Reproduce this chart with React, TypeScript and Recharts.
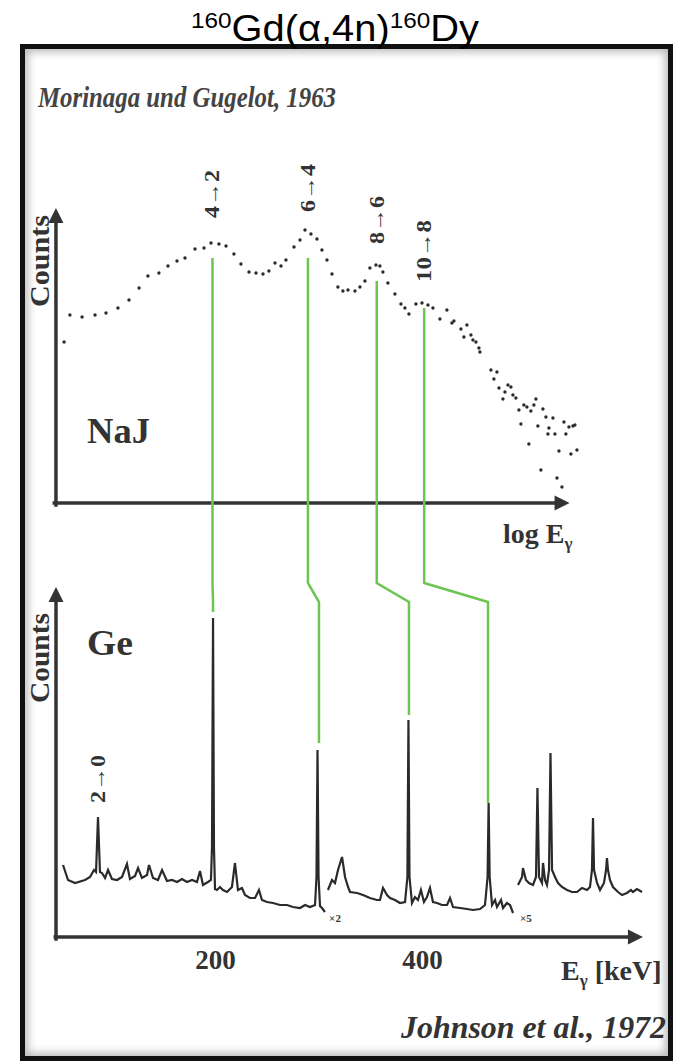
import React from "react";
import { ComposedChart, XAxis, YAxis, Scatter, Line, ReferenceLine, ReferenceDot } from "recharts";

// axis windows of the figure
const LOG_DOMAIN = [100, 1200]; // keV, log scale (NaJ panel)
const KEV_DOMAIN = [40, 620]; // keV, linear (Ge panel)
const TOP_DOMAIN = [-279, 251.5]; // counts, NaJ panel
const BOT_DOMAIN = [-62, 468.5]; // counts, Ge panel

// NaJ spectrum, Morinaga und Gugelot 1963: [E keV, counts]
const najPoints = [
  [106, 80.5], [108.6, 94], [114.2, 93], [120.5, 94], [126.1, 95], [132.5, 97.5], [138.7, 101.5],
  [144.6, 107.5], [150, 113.5], [157, 115], [163, 118.5], [169.2, 121], [174.9, 122.5], [182.3, 127],
  [189.2, 127.5], [194.8, 130], [201.3, 129.5], [207.3, 128.5], [214.2, 124.5], [220.5, 119.5],
  [228, 115.5], [234.7, 115], [241.6, 114.5], [247.6, 116], [253.9, 120], [260.3, 118.5], [265.7, 121.5],
  [274.7, 128], [281.6, 131.5], [287.5, 136.5], [294.7, 134.5], [302.1, 132], [308.4, 126.5],
  [314.9, 121.5], [321.5, 114.5], [329.5, 108], [336.4, 106], [343.5, 106.5], [353.6, 106], [361, 108],
  [368.5, 111], [376.2, 117.5], [385.7, 119], [392.1, 118.5], [397, 115.5], [405.3, 110], [417.3, 104.5],
  [427.8, 99.5], [434.9, 97.5], [442.2, 94.5], [455.2, 99.5], [466.7, 100], [478.4, 99], [488.4, 97.5],
  [502.7, 92], [517.5, 96.5], [528.3, 90], [532.7, 91], [548.4, 87], [555.2, 83], [562.2, 89],
  [571.6, 84], [576.4, 81.5], [583.6, 80.5], [590.9, 77.5], [593.3, 75.5], [621, 66.5], [628.7, 62],
  [636.6, 65.5], [642, 57.5], [652.6, 52], [658.1, 55.5], [666.3, 59], [674.6, 58], [680.2, 54],
  [688.6, 52.5], [697.3, 46.5], [703.1, 39.5], [711.8, 49], [720.8, 48], [726.7, 29.5], [732.8, 46],
  [741.9, 49], [748.1, 52], [754.3, 38.5], [763.8, 16.5], [770.2, 47], [779.8, 43], [786.3, 34.5],
  [789.6, 37.5], [802.8, 42.5], [809.5, 34.5], [816.3, 12.5], [823, 26], [833.3, 8], [840.2, 40.5],
  [847.1, 34.5], [857.8, 38], [864.9, 24.5], [872.1, 38.5], [879.3, 39], [886.7, 26.5],
];

// Ge spectrum, Johnson et al. 1972: [E keV, counts]
const geMain = [
  [52.6, 36], [57.4, 28.5], [64.2, 27], [73.8, 28.5], [78.7, 30], [82.5, 33.5], [84.5, 32.5], [86.4, 60],
  [88.3, 32.5], [90.3, 32], [93.2, 29.5], [96.1, 33.5], [99.9, 29], [104.8, 28.5], [109.6, 30],
  [114.4, 36.5], [117.3, 29], [122.2, 30.5], [125.1, 34.5], [128.9, 29.5], [133.8, 31], [135.7, 36],
  [139.6, 29.5], [144.4, 28.5], [148.3, 33.5], [153.1, 28], [157.9, 28.5], [162.8, 27.5], [167.6, 29],
  [172.4, 27.5], [177.3, 28.5], [182.1, 27.5], [185, 33], [187.9, 26], [192.7, 27.5], [195.6, 28.5],
  [196.6, 45], [197.6, 159.5], [198.5, 45], [199.5, 24], [201.4, 23.5], [204.3, 25], [207.2, 23.5],
  [211.1, 22.5], [215.9, 25], [218.8, 37], [221.7, 23.5], [225.6, 24.5], [228.5, 21], [233.3, 19.5],
  [238.2, 19.5], [242, 23.5], [244.9, 18.5], [249.8, 17.5], [255.6, 17], [262.3, 16], [269.1, 16],
  [274.9, 15], [281.7, 14.5], [286.5, 16], [291.3, 15], [296.2, 16], [297.6, 30], [298.6, 93.5],
  [299.6, 30], [301, 15.5], [302.9, 14.5], [305.8, 12.5],
];
const geTimes2 = [
  [308.7, 23.5], [312.6, 28.5], [315.5, 27], [318.4, 33.5], [322.3, 40], [325.2, 30], [328.1, 25],
  [330, 22.5], [336.8, 22], [342.6, 21], [349.3, 19.5], [356.1, 18.5], [359, 18.5], [361.9, 24.5],
  [365.8, 21], [368.7, 19.5], [373.5, 18.5], [378.3, 17], [383.2, 17.5], [385.5, 30], [386.5, 108.5],
  [387.5, 30], [389.9, 17], [392.8, 20], [395.7, 18.5], [398.6, 23.5], [401.5, 17.5], [404.4, 20],
  [407.3, 24.5], [410.2, 17.5], [414.1, 17], [418.9, 16], [423.8, 16], [426.7, 19.5], [429.6, 15],
  [436.3, 14.5], [443.1, 14], [448.9, 13.5], [455.7, 14], [460.5, 16], [463, 30], [464, 67], [465, 30],
  [467.3, 16], [470.2, 18.5], [472.1, 15], [476, 18.5], [477.9, 14.5], [481.7, 17], [484.7, 16], [487.6, 12],
];
const geTimes5 = [
  [492.4, 26], [496.3, 30], [497.2, 34.5], [500.1, 28.5], [503, 27], [506.9, 26], [509.8, 30],
  [511.2, 74.5], [512.7, 30], [515.6, 27], [516.6, 37], [518.5, 28.5], [520.4, 26], [522.4, 33.5],
  [523.8, 92], [525.3, 33.5], [528.2, 30], [531.1, 27], [534.9, 25], [539.8, 23.5], [544.6, 22.5],
  [549.4, 22.5], [554.3, 24.5], [559.1, 23.5], [562, 25], [563.9, 33.5], [564.9, 59.5], [565.9, 33.5],
  [568.8, 27], [571.7, 23.5], [575.5, 27], [577.5, 33.5], [578.4, 39.5], [579.4, 33.5], [581.3, 28.5],
  [584.2, 25], [589.1, 22.5], [592.9, 21], [597.7, 22], [601.6, 23.5], [603.5, 22.5], [607.4, 24],
  [612.3, 22.5],
];

// yrast transitions linking both spectra
const transitions = ["4→2", "6→4", "8→6", "10→8"];
const najEnergy = [196, 291, 387, 471];
const geEnergy = [197.6, 300, 387, 463.4];
const najLineStart = [122.5, 122.5, 111, 97.5];
const geLineEnd = [162.5, 97, 111, 67];
const labelCounts = [154.5, 157.5, 141.5, 126];
const BEND_UPPER = 177; // Ge-panel counts where the connectors bend
const BEND_LOWER = 167.5;

const kevTicks = [200, 400];

const INK = "#333";
const GREEN = "#6cc552";
const SERIF = '"Liberation Serif", "Times New Roman", serif';

const toXY = (arr: number[][]) => arr.map(([x, y]) => ({ x, y }));

// place a log-axis energy / NaJ count on the linear Ge axes
const logToKev = (e: number) =>
  KEV_DOMAIN[0] +
  ((Math.log(e) - Math.log(LOG_DOMAIN[0])) / (Math.log(LOG_DOMAIN[1]) - Math.log(LOG_DOMAIN[0]))) *
    (KEV_DOMAIN[1] - KEV_DOMAIN[0]);
const topToBot = (c: number) =>
  BOT_DOMAIN[0] + ((c - TOP_DOMAIN[0]) / (TOP_DOMAIN[1] - TOP_DOMAIN[0])) * (BOT_DOMAIN[1] - BOT_DOMAIN[0]);

const connectors = transitions.map((t, i) => [
  { x: logToKev(najEnergy[i]), y: topToBot(najLineStart[i]) },
  { x: logToKev(najEnergy[i]), y: BEND_UPPER },
  { x: geEnergy[i], y: BEND_LOWER },
  { x: geEnergy[i], y: geLineEnd[i] },
]);

const Arrow = (p: any) => {
  const { x1, y1, x2, y2 } = p;
  const len = Math.hypot(x2 - x1, y2 - y1);
  const ux = (x2 - x1) / len;
  const uy = (y2 - y1) / len;
  const L = 15;
  const W = 7.5;
  const bx = x2 - ux * L;
  const by = y2 - uy * L;
  return (
    <g>
      <line x1={x1} y1={y1} x2={bx} y2={by} stroke={INK} strokeWidth={3.5} strokeLinecap="square" />
      <polygon points={`${x2},${y2} ${bx - uy * W},${by + ux * W} ${bx + uy * W},${by - ux * W}`} fill={INK} />
    </g>
  );
};

const rotLabel = (text: string, size: number, len: number) => (p: any) => (
  <text
    x={p.cx}
    y={p.cy}
    transform={`rotate(-90 ${p.cx} ${p.cy})`}
    textAnchor="middle"
    dominantBaseline="central"
    fontFamily={SERIF}
    fontWeight="bold"
    fontSize={size}
    fill={INK}
    textLength={len}
    lengthAdjust="spacingAndGlyphs"
  >
    {text}
  </text>
);

const plainLabel = (text: string, size: number) => (p: any) => (
  <text x={p.cx} y={p.cy} textAnchor="middle" dominantBaseline="central" fontFamily={SERIF} fontWeight="bold" fontSize={size} fill={INK}>
    {text}
  </text>
);

export default function App() {
  return (
    <div style={{ position: "absolute", left: 0, top: 0, width: 685, height: 1061, background: "#fff", overflow: "hidden" }}>
      <div
        style={{
          position: "absolute",
          left: 20,
          top: 44,
          width: 653,
          height: 1017,
          boxSizing: "border-box",
          border: "5px solid #111",
          boxShadow: "inset 0 0 9px 3px rgba(0,0,0,0.28)",
          background: "#fff",
        }}
      />
      <div style={{ position: "absolute", left: 0, top: 0 }}>
        <ComposedChart width={685} height={1061} margin={{ top: 0, right: 35, bottom: 0, left: 50 }}>
          <XAxis xAxisId="log" dataKey="x" type="number" scale="log" domain={LOG_DOMAIN} allowDataOverflow hide />
          <XAxis xAxisId="kev" dataKey="x" type="number" domain={KEV_DOMAIN} allowDataOverflow hide />
          <YAxis yAxisId="top" dataKey="y" type="number" domain={TOP_DOMAIN} allowDataOverflow hide />
          <YAxis yAxisId="bot" dataKey="y" type="number" domain={BOT_DOMAIN} allowDataOverflow hide />

          {/* axes with arrows */}
          <ReferenceLine xAxisId="log" yAxisId="top" segment={[{ x: 102.5, y: -1 }, { x: 102.5, y: 147.5 }]} shape={Arrow} />
          <ReferenceLine xAxisId="log" yAxisId="top" segment={[{ x: 101.8, y: 0 }, { x: 860, y: 0 }]} shape={Arrow} />
          <ReferenceLine xAxisId="kev" yAxisId="bot" segment={[{ x: 45.8, y: -1 }, { x: 45.8, y: 175 }]} shape={Arrow} />
          <ReferenceLine xAxisId="kev" yAxisId="bot" segment={[{ x: 45.1, y: 0 }, { x: 613.2, y: 0 }]} shape={Arrow} />

          {/* green connectors */}
          {connectors.map((pts, i) => (
            <Line
              key={transitions[i]}
              xAxisId="kev"
              yAxisId="bot"
              data={pts}
              dataKey="y"
              type="linear"
              stroke={GREEN}
              strokeWidth={2.5}
              dot={false}
              activeDot={false}
              isAnimationActive={false}
            />
          ))}

          <Scatter
            xAxisId="log"
            yAxisId="top"
            data={toXY(najPoints)}
            isAnimationActive={false}
            shape={(p: any) => <circle cx={p.cx} cy={p.cy} r={1.7} fill="#2a2a2a" />}
          />

          {[geMain, geTimes2, geTimes5].map((seg, i) => (
            <Line
              key={`ge${i}`}
              xAxisId="kev"
              yAxisId="bot"
              data={toXY(seg)}
              dataKey="y"
              type="linear"
              stroke="#2a2a2a"
              strokeWidth={2.2}
              dot={false}
              activeDot={false}
              isAnimationActive={false}
            />
          ))}

          {transitions.map((t, i) => (
            <ReferenceDot
              key={`lab${t}`}
              xAxisId="log"
              yAxisId="top"
              x={najEnergy[i]}
              y={labelCounts[i]}
              r={0}
              shape={rotLabel(t, 20, t.length > 3 ? 62 : 48)}
            />
          ))}
          <ReferenceDot xAxisId="kev" yAxisId="bot" x={86.4} y={79} r={0} shape={rotLabel("2→0", 20, 48)} />
          {kevTicks.map((k) => (
            <ReferenceDot key={k} xAxisId="kev" yAxisId="bot" x={k} y={-11.5} r={0} shape={plainLabel(String(k), 27)} />
          ))}
          <ReferenceDot xAxisId="kev" yAxisId="bot" x={315.5} y={9.5} r={0} shape={plainLabel("×2", 11)} />
          <ReferenceDot xAxisId="kev" yAxisId="bot" x={500} y={9.5} r={0} shape={plainLabel("×5", 11)} />
        </ComposedChart>
      </div>
      <svg width={685} height={1061} style={{ position: "absolute", left: 0, top: 0, pointerEvents: "none" }}>
        <text
          x={191}
          y={41}
          fontFamily='"Liberation Sans", Arial, sans-serif'
          fontSize={36}
          fill="#000"
          textLength={288}
          lengthAdjust="spacingAndGlyphs"
        >
          <tspan fontSize={22} dy={-13}>160</tspan>
          <tspan dy={13}>Gd(α,4n)</tspan>
          <tspan fontSize={22} dy={-13}>160</tspan>
          <tspan dy={13}>Dy</tspan>
        </text>
        <text x={38} y={107} fontFamily={SERIF} fontStyle="italic" fontWeight="bold" fontSize={30} fill="#444" textLength={298} lengthAdjust="spacingAndGlyphs">
          Morinaga und Gugelot, 1963
        </text>
        <text x={39} y={261} transform="rotate(-90 39 261)" textAnchor="middle" dominantBaseline="central" fontFamily={SERIF} fontWeight="bold" fontSize={28} fill={INK} textLength={92} lengthAdjust="spacingAndGlyphs">
          Counts
        </text>
        <text x={39} y={658} transform="rotate(-90 39 658)" textAnchor="middle" dominantBaseline="central" fontFamily={SERIF} fontWeight="bold" fontSize={28} fill={INK} textLength={90} lengthAdjust="spacingAndGlyphs">
          Counts
        </text>
        <text x={87} y={443} fontFamily={SERIF} fontWeight="bold" fontSize={36} fill={INK} textLength={63} lengthAdjust="spacingAndGlyphs">
          NaJ
        </text>
        <text x={87} y={655} fontFamily={SERIF} fontWeight="bold" fontSize={36} fill={INK} textLength={46} lengthAdjust="spacingAndGlyphs">
          Ge
        </text>
        <text x={503} y={543} fontFamily={SERIF} fontWeight="bold" fontSize={28} fill={INK}>
          log E<tspan fontSize={17} dy={6}>γ</tspan>
        </text>
        <text x={561} y={980} fontFamily={SERIF} fontWeight="bold" fontSize={28} fill={INK}>
          E<tspan fontSize={17} dy={6}>γ</tspan>
          <tspan dy={-6}> [keV]</tspan>
        </text>
        <text x={401} y={1038} fontFamily={SERIF} fontStyle="italic" fontWeight="bold" fontSize={32} fill={INK} textLength={265} lengthAdjust="spacingAndGlyphs">
          Johnson et al., 1972
        </text>
      </svg>
    </div>
  );
}
